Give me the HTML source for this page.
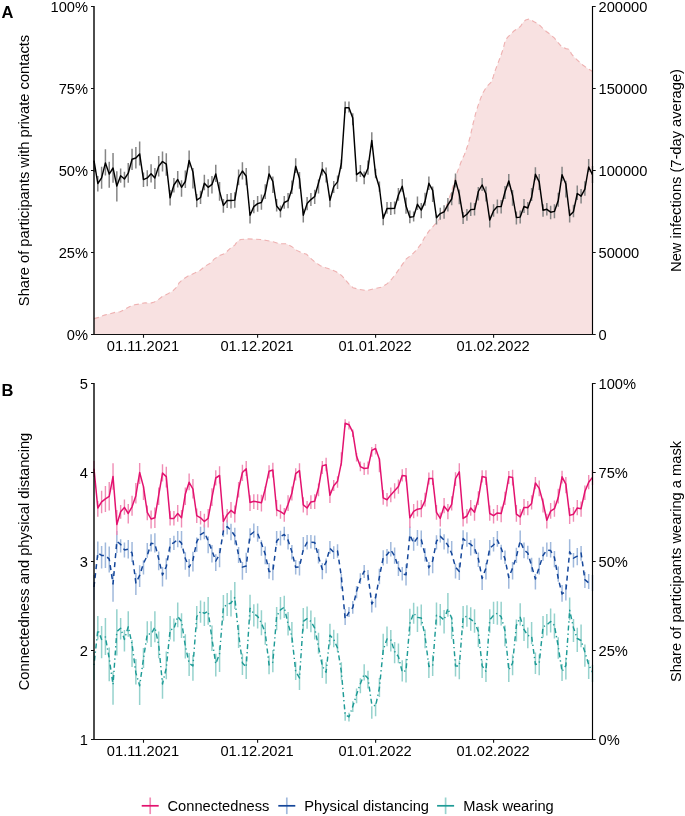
<!DOCTYPE html>
<html><head><meta charset="utf-8"><style>
html,body{margin:0;padding:0;background:#fff;}
body{width:685px;height:816px;overflow:hidden;}
svg{display:block;will-change:transform;}
text{font-family:"Liberation Sans",sans-serif;}
</style></head><body>
<svg width="685" height="816" viewBox="0 0 685 816" font-family="Liberation Sans, sans-serif" font-size="14.67">
<rect width="685" height="816" fill="#fff"/>
<polygon points="94.0,334.5 94.0,318.6 99.2,317.3 104.5,315.1 109.7,313.8 115.0,312.4 120.2,311.8 124.8,309.4 129.4,306.8 134.7,304.8 139.9,303.9 145.2,302.8 150.4,303.2 154.4,301.9 158.3,299.6 162.9,296.0 167.5,293.9 172.8,291.0 176.7,287.1 178.9,283.2 182.9,279.3 188.1,276.0 194.7,273.1 200.0,270.5 205.2,266.1 209.8,263.5 214.4,258.9 219.7,255.6 224.9,253.4 230.2,248.4 234.8,245.1 237.4,241.2 240.7,239.5 247.3,238.9 253.8,239.2 260.4,239.5 266.6,240.5 273.1,241.8 279.7,243.8 286.3,243.8 291.5,246.4 296.8,250.4 302.0,253.0 306.6,254.3 309.9,257.6 315.2,262.2 320.4,265.7 325.7,267.8 331.0,269.4 336.2,271.8 341.5,275.3 345.0,279.2 348.6,283.6 353.0,287.7 359.6,289.5 366.9,290.6 374.2,288.7 381.5,287.3 387.3,283.6 391.7,279.2 396.1,273.4 401.2,266.1 406.3,258.8 412.2,254.4 416.5,250.0 420.9,244.2 424.6,237.6 428.9,231.1 433.4,226.1 438.6,220.1 442.9,211.5 447.2,203.8 450.6,194.3 453.2,185.8 455.8,176.3 459.2,166.9 461.8,160.0 464.3,155.0 467.7,145.5 470.3,136.1 473.0,124.0 475.7,113.2 479.1,102.4 482.5,93.6 486.5,86.9 491.3,82.1 493.3,76.7 494.5,72.3 497.6,64.2 500.7,56.0 503.2,48.8 504.7,42.7 507.3,37.6 509.9,35.0 513.9,31.0 517.5,28.4 520.6,26.4 523.1,22.3 525.7,20.0 528.8,19.2 532.3,20.7 534.1,21.8 538.7,24.3 542.3,27.9 546.3,31.5 550.4,34.5 554.5,38.1 558.1,42.7 561.7,46.8 565.8,48.6 569.3,49.3 571.4,53.9 575.0,58.0 579.0,61.6 583.1,65.2 587.2,68.2 592.5,71.5 592.5,334.5" fill="#f8e1e1"/>
<polyline points="94.0,318.6 99.2,317.3 104.5,315.1 109.7,313.8 115.0,312.4 120.2,311.8 124.8,309.4 129.4,306.8 134.7,304.8 139.9,303.9 145.2,302.8 150.4,303.2 154.4,301.9 158.3,299.6 162.9,296.0 167.5,293.9 172.8,291.0 176.7,287.1 178.9,283.2 182.9,279.3 188.1,276.0 194.7,273.1 200.0,270.5 205.2,266.1 209.8,263.5 214.4,258.9 219.7,255.6 224.9,253.4 230.2,248.4 234.8,245.1 237.4,241.2 240.7,239.5 247.3,238.9 253.8,239.2 260.4,239.5 266.6,240.5 273.1,241.8 279.7,243.8 286.3,243.8 291.5,246.4 296.8,250.4 302.0,253.0 306.6,254.3 309.9,257.6 315.2,262.2 320.4,265.7 325.7,267.8 331.0,269.4 336.2,271.8 341.5,275.3 345.0,279.2 348.6,283.6 353.0,287.7 359.6,289.5 366.9,290.6 374.2,288.7 381.5,287.3 387.3,283.6 391.7,279.2 396.1,273.4 401.2,266.1 406.3,258.8 412.2,254.4 416.5,250.0 420.9,244.2 424.6,237.6 428.9,231.1 433.4,226.1 438.6,220.1 442.9,211.5 447.2,203.8 450.6,194.3 453.2,185.8 455.8,176.3 459.2,166.9 461.8,160.0 464.3,155.0 467.7,145.5 470.3,136.1 473.0,124.0 475.7,113.2 479.1,102.4 482.5,93.6 486.5,86.9 491.3,82.1 493.3,76.7 494.5,72.3 497.6,64.2 500.7,56.0 503.2,48.8 504.7,42.7 507.3,37.6 509.9,35.0 513.9,31.0 517.5,28.4 520.6,26.4 523.1,22.3 525.7,20.0 528.8,19.2 532.3,20.7 534.1,21.8 538.7,24.3 542.3,27.9 546.3,31.5 550.4,34.5 554.5,38.1 558.1,42.7 561.7,46.8 565.8,48.6 569.3,49.3 571.4,53.9 575.0,58.0 579.0,61.6 583.1,65.2 587.2,68.2 592.5,71.5" fill="none" stroke="#eeb1b1" stroke-width="1.1" stroke-dasharray="5 3.5"/>
<path d="M94.00 150.0V172.0M97.81 175.9V191.5M101.61 166.7V188.8M105.42 149.2V175.4M109.22 161.7V187.8M113.03 152.9V182.8M116.83 171.3V201.6M120.64 168.5V182.8M124.44 171.8V187.4M128.25 163.0V182.8M132.05 148.8V169.9M135.86 147.0V168.5M139.66 141.5V165.4M143.47 172.5V186.9M147.27 170.3V186.3M151.08 164.2V182.5M154.88 168.1V189.1M158.69 156.0V176.4M162.50 151.6V171.4M166.30 153.2V175.8M170.11 190.0V205.6M173.91 178.0V192.4M177.72 170.9V187.4M181.52 180.3V196.8M185.33 170.4V188.0M189.13 150.5V167.6M192.94 168.1V188.6M196.74 194.1V207.3M200.55 190.8V204.0M204.35 174.8V190.2M208.16 179.2V196.8M211.96 175.9V193.5M215.77 164.8V181.9M219.57 181.9V200.7M223.38 199.0V212.8M227.19 194.1V207.9M230.99 193.0V208.6M234.80 192.2V207.8M238.60 169.6V185.3M242.41 162.3V179.4M246.21 168.1V185.3M250.02 212.7V223.5M253.82 200.0V213.2M257.63 196.1V211.8M261.43 194.6V209.8M265.24 184.3V199.0M269.04 165.7V179.4M272.85 176.5V193.1M276.65 199.0V211.5M280.46 205.4V217.6M284.26 196.1V208.8M288.07 193.1V208.3M291.88 180.4V194.1M295.68 158.3V173.0M299.49 172.1V188.7M303.29 208.8V222.5M307.10 197.1V210.3M310.90 193.1V205.9M314.71 189.7V203.9M318.51 179.4V193.6M322.32 162.1V175.5M326.12 167.5V182.6M329.93 196.9V207.3M333.73 181.0V192.9M337.54 175.4V189.0M341.34 159.5V169.0M345.15 101.4V113.3M348.96 101.4V112.5M352.76 113.3V125.3M356.57 173.0V181.8M360.37 165.1V177.0M364.18 171.4V184.2M367.98 160.6V174.8M371.79 132.2V146.5M375.59 168.7V178.3M379.40 181.6V191.8M383.20 213.7V225.3M387.01 202.1V213.7M390.81 202.1V215.0M394.62 201.5V214.3M398.42 188.0V200.8M402.23 179.0V191.8M406.03 197.6V213.7M409.84 210.5V223.3M413.65 211.5V221.6M417.45 196.4V210.0M421.26 203.1V218.2M425.06 192.7V205.7M428.87 176.6V190.1M432.67 186.5V202.1M436.48 214.6V224.5M440.28 207.8V219.8M444.09 205.2V218.8M447.89 197.9V211.5M451.70 192.2V205.2M455.50 173.4V187.5M459.31 189.6V204.2M463.11 212.0V224.0M466.92 208.9V220.8M470.72 202.6V216.1M474.53 203.1V215.6M478.34 187.0V200.5M482.14 178.1V191.1M485.95 186.5V201.6M489.75 215.6V227.6M493.56 204.2V216.7M497.36 199.5V213.5M501.17 200.0V213.5M504.97 185.9V199.0M508.78 174.0V186.5M512.58 190.1V205.7M516.39 211.5V224.5M520.19 210.4V223.4M524.00 199.0V213.0M527.80 202.1V215.1M531.61 188.0V201.0M535.41 167.2V180.2M539.22 174.0V190.1M543.03 204.2V216.7M546.83 203.1V215.6M550.64 205.7V219.3M554.44 204.2V218.2M558.25 192.7V206.8M562.05 166.7V181.3M565.86 180.7V197.4M569.66 209.4V222.4M573.47 204.7V217.2M577.27 185.4V200.0M581.08 189.1V203.6M584.88 181.3V195.8M588.69 158.9V171.9M592.49 166.0V183.0" stroke="#858585" stroke-width="1.5" fill="none"/>
<polyline points="94.00,160.6 97.81,183.5 101.61,177.9 105.42,162.9 109.22,174.1 113.03,168.0 116.83,186.1 120.64,175.8 124.44,179.0 128.25,173.2 132.05,159.2 135.86,158.0 139.66,153.9 143.47,179.6 147.27,177.9 151.08,173.8 154.88,177.9 158.69,166.2 162.50,161.5 166.30,164.2 170.11,197.8 173.91,185.0 177.72,179.5 181.52,187.3 185.33,181.5 189.13,160.4 192.94,172.1 196.74,200.1 200.55,197.5 204.35,183.2 208.16,187.3 211.96,184.4 215.77,173.9 219.57,191.4 223.38,205.4 227.19,200.5 230.99,200.5 234.80,200.1 238.60,177.4 242.41,171.0 246.21,176.2 250.02,215.3 253.82,206.6 257.63,203.6 261.43,202.5 265.24,193.1 269.04,173.9 272.85,181.5 276.65,206.0 280.46,210.7 284.26,202.5 288.07,200.7 291.88,189.0 295.68,166.3 299.49,178.5 303.29,215.3 307.10,203.6 310.90,199.6 314.71,196.5 318.51,183.0 322.32,169.1 326.12,174.7 329.93,200.2 333.73,186.6 337.54,181.9 341.34,163.5 345.15,107.7 348.96,107.7 352.76,118.1 356.57,174.7 360.37,171.8 364.18,177.1 367.98,168.3 371.79,140.4 375.59,174.7 379.40,187.5 383.20,218.5 387.01,208.5 390.81,208.5 394.62,208.3 398.42,195.0 402.23,186.2 406.03,206.1 409.84,217.2 413.65,216.6 417.45,204.3 421.26,210.1 425.06,201.4 428.87,183.3 432.67,190.3 436.48,217.7 440.28,213.6 444.09,211.9 447.89,204.9 451.70,199.0 455.50,180.4 459.31,194.4 463.11,217.2 466.92,214.2 470.72,209.6 474.53,209.3 478.34,191.5 482.14,185.0 485.95,193.8 489.75,220.1 493.56,210.7 497.36,206.6 501.17,206.6 504.97,192.0 508.78,180.9 512.58,195.5 516.39,217.5 520.19,217.1 524.00,206.5 527.80,208.0 531.61,197.3 535.41,174.3 539.22,181.8 543.03,210.2 546.83,209.3 550.64,212.2 554.44,211.4 558.25,200.6 562.05,174.7 565.86,184.1 569.66,215.5 573.47,211.7 577.27,193.5 581.08,196.2 584.88,189.1 588.69,167.0 592.49,174.7" fill="none" stroke="#000" stroke-width="1.45" stroke-linejoin="round"/>
<path d="M94.0 6.0V334.6" stroke="#000" stroke-width="1.4"/>
<path d="M592.5 6.0V334.6" stroke="#000" stroke-width="1.15"/>
<path d="M93.4 334.5H593.1" stroke="#111" stroke-width="1.1"/>
<path d="M91.0 334.5H94.0M592.5 334.5H595.7M91.0 252.5H94.0M592.5 252.5H595.7M91.0 170.5H94.0M592.5 170.5H595.7M91.0 88.5H94.0M592.5 88.5H595.7M91.0 6.5H94.0M592.5 6.5H595.7M143.5 334.5V337.8M257.6 334.5V337.8M375.6 334.5V337.8M493.6 334.5V337.8" stroke="#111" stroke-width="1.1"/>
<text x="88.0" y="339.7" text-anchor="end" fill="#000">0%</text>
<text x="88.0" y="257.7" text-anchor="end" fill="#000">25%</text>
<text x="88.0" y="175.7" text-anchor="end" fill="#000">50%</text>
<text x="88.0" y="93.7" text-anchor="end" fill="#000">75%</text>
<text x="88.0" y="11.7" text-anchor="end" fill="#000">100%</text>
<text x="598.5" y="339.7" fill="#000">0</text>
<text x="598.5" y="257.7" fill="#000">50000</text>
<text x="598.5" y="175.7" fill="#000">100000</text>
<text x="598.5" y="93.7" fill="#000">150000</text>
<text x="598.5" y="11.7" fill="#000">200000</text>
<text x="143.0" y="351.2" text-anchor="middle" fill="#000">01.11.2021</text>
<text x="257.1" y="351.2" text-anchor="middle" fill="#000">01.12.2021</text>
<text x="375.1" y="351.2" text-anchor="middle" fill="#000">01.01.2022</text>
<text x="493.1" y="351.2" text-anchor="middle" fill="#000">01.02.2022</text>
<text transform="translate(28.6 170.5) rotate(-90)" text-anchor="middle" fill="#000">Share of participants with private contacts</text>
<text transform="translate(681.2 170.5) rotate(-90)" text-anchor="middle" fill="#000">New infections (7-day average)</text>
<text x="1.5" y="18" font-weight="bold" font-size="16.5" fill="#000">A</text>
<path d="M94.00 652.0V680.0M97.81 615.9V639.5M101.61 626.0V658.3M105.42 617.9V655.0M109.22 647.6V681.3M113.03 671.8V704.8M116.83 609.2V655.6M120.64 617.9V639.5M124.44 630.0V651.6M128.25 611.2V636.8M132.05 640.1V667.1M135.86 659.0V684.6M139.66 681.0V705.0M143.47 648.0V668.0M147.27 621.3V642.8M151.08 621.3V646.9M154.88 611.2V642.2M158.69 631.4V658.3M162.50 678.6V698.8M166.30 651.6V679.2M170.11 615.9V639.5M173.91 618.6V641.5M177.72 602.4V627.3M181.52 613.2V638.1M185.33 634.2V658.4M189.13 653.1V676.0M192.94 655.1V680.7M196.74 605.9V628.8M200.55 600.5V622.7M204.35 601.8V626.1M208.16 597.1V624.8M211.96 625.4V651.0M215.77 653.7V676.6M219.57 646.3V671.9M223.38 595.1V620.7M227.19 593.1V616.0M230.99 590.3V616.5M234.80 582.0V609.0M238.60 624.5V648.1M242.41 653.5V675.0M246.21 656.8V679.1M250.02 594.8V620.4M253.82 604.3V626.5M257.63 603.6V628.5M261.43 610.3V635.3M265.24 622.5V644.7M269.04 655.5V674.3M272.85 650.1V672.3M276.65 607.1V630.3M280.46 597.1V619.4M284.26 595.8V618.0M288.07 612.0V635.5M291.88 622.1V643.0M295.68 661.8V680.0M299.49 671.3V690.1M303.29 607.9V631.5M307.10 606.6V628.8M310.90 610.6V632.2M314.71 617.3V639.6M318.51 632.8V653.7M322.32 659.2V678.1M326.12 662.2V683.7M329.93 623.8V645.3M333.73 629.8V647.3M337.54 633.2V652.1M341.34 662.2V679.7M345.15 712.0V720.8M348.96 712.7V721.5M352.76 701.3V712.0M356.57 688.5V703.3M360.37 678.3V693.2M364.18 664.2V680.4M367.98 670.8V688.4M371.79 706.2V718.8M375.59 702.9V716.2M379.40 677.9V697.0M383.20 633.8V655.1M387.01 626.5V646.3M390.81 630.1V651.5M394.62 641.9V663.2M398.42 643.4V663.2M402.23 660.3V681.6M406.03 658.8V682.4M409.84 608.8V635.3M413.65 602.7V623.8M417.45 606.6V632.0M421.26 604.5V625.4M425.06 629.5V648.3M428.87 661.1V678.0M432.67 655.1V676.0M436.48 602.5V625.4M440.28 603.9V625.4M444.09 609.9V633.5M447.89 593.1V616.7M451.70 616.7V638.9M455.50 659.1V676.6M459.31 660.5V679.3M463.11 605.9V628.8M466.92 605.2V626.8M470.72 607.2V630.8M474.53 609.3V632.8M478.34 626.8V647.0M482.14 660.5V678.0M485.95 662.5V682.0M489.75 609.3V632.8M493.56 601.8V624.1M497.36 601.2V624.8M501.17 601.8V625.4M504.97 625.4V646.3M508.78 663.2V682.0M512.58 654.4V675.3M516.39 619.4V641.6M520.19 603.2V625.4M524.00 617.3V640.9M527.80 627.5V648.3M531.61 622.1V644.3M535.41 652.4V673.9M539.22 654.4V675.3M543.03 616.0V637.6M546.83 614.0V635.5M550.64 608.4V632.6M554.44 613.4V638.4M558.25 637.2V658.7M562.05 664.1V681.0M565.86 657.4V679.6M569.66 597.4V620.3M573.47 619.0V641.9M577.27 627.7V652.0M581.08 624.4V647.3M584.88 644.6V666.8M588.69 660.1V678.9M592.49 665.0V682.0" stroke="#96d2cd" stroke-width="1.5" fill="none"/>
<path d="M94.00 575.0V600.0M97.81 541.5V558.1M101.61 545.9V568.6M105.42 542.6V568.0M109.22 546.5V572.4M113.03 573.0V601.7M116.83 531.0V553.1M120.64 539.3V552.6M124.44 542.6V557.5M128.25 539.9V558.6M132.05 542.1V561.9M135.86 573.0V595.0M139.66 565.2V586.9M143.47 560.3V574.4M147.27 543.1V557.7M151.08 534.3V551.5M154.88 533.2V552.5M158.69 551.5V570.2M162.50 567.1V586.4M166.30 558.2V579.6M170.11 537.9V552.5M173.91 535.8V549.9M177.72 531.1V547.3M181.52 531.1V548.3M185.33 552.3V569.8M189.13 559.0V576.7M192.94 551.7V571.5M196.74 537.6V551.7M200.55 526.7V540.2M204.35 524.6V539.2M208.16 536.6V553.2M211.96 544.9V562.6M215.77 554.3V570.9M219.57 548.0V567.3M223.38 523.5V537.1M227.19 519.9V534.5M230.99 523.8V540.2M234.80 527.7V544.4M238.60 547.0V563.1M242.41 562.1V579.8M246.21 552.7V573.0M250.02 528.2V541.3M253.82 523.5V537.6M257.63 526.1V541.8M261.43 540.2V555.8M265.24 546.5V564.2M269.04 563.1V578.8M272.85 564.2V580.3M276.65 531.0V545.4M280.46 530.8V545.4M284.26 526.7V540.2M288.07 534.0V549.6M291.88 544.9V559.5M295.68 560.0V574.6M299.49 561.0V575.6M303.29 537.1V551.7M307.10 535.0V549.6M310.90 535.0V548.5M314.71 535.5V549.6M318.51 549.1V563.6M322.32 563.0V579.3M326.12 558.4V573.2M329.93 540.9V553.7M333.73 546.3V559.1M337.54 544.3V557.7M341.34 573.9V588.7M345.15 609.0V625.1M348.96 606.9V617.0M352.76 600.9V613.7M356.57 586.0V598.2M360.37 573.2V584.0M364.18 565.1V578.0M367.98 570.0V581.0M371.79 599.6V612.5M375.59 593.9V607.4M379.40 568.8V584.3M383.20 550.2V565.6M387.01 548.9V563.7M390.81 541.9V556.6M394.62 547.6V563.7M398.42 561.1V575.9M402.23 566.9V580.4M406.03 564.3V585.6M409.84 526.4V541.2M413.65 537.4V550.8M417.45 530.1V545.7M421.26 530.6V547.3M425.06 548.3V561.4M428.87 561.9V575.4M432.67 556.1V573.3M436.48 535.3V549.4M440.28 528.5V542.6M444.09 534.3V549.4M447.89 538.4V553.5M451.70 541.0V555.6M455.50 564.0V578.5M459.31 562.9V580.1M463.11 530.3V545.2M466.92 532.2V546.8M470.72 540.0V555.6M474.53 538.4V553.5M478.34 552.5V567.1M482.14 575.4V590.0M485.95 562.9V579.6M489.75 540.0V555.6M493.56 536.9V551.5M497.36 531.1V546.8M501.17 544.7V559.8M504.97 550.4V564.0M508.78 574.6V588.7M512.58 561.9V579.6M516.39 547.8V562.9M520.19 530.6V544.2M524.00 542.6V558.2M527.80 545.7V559.3M531.61 557.7V571.8M535.41 573.9V589.5M539.22 557.7V574.4M543.03 546.8V560.8M546.83 542.6V556.7M550.64 542.0V557.6M554.44 550.9V567.3M558.25 566.4V581.8M562.05 585.1V601.7M565.86 584.0V600.6M569.66 539.3V555.3M573.47 553.1V567.5M577.27 548.1V565.3M581.08 545.9V560.8M584.88 571.9V587.9M588.69 574.1V589.0M592.49 575.0V591.0" stroke="#a0b9dc" stroke-width="1.5" fill="none"/>
<path d="M94.00 461.0V477.0M97.81 501.1V516.8M101.61 490.8V513.3M105.42 485.9V511.9M109.22 482.0V510.4M113.03 463.3V489.8M116.83 510.0V535.0M120.64 505.0V518.7M124.44 499.6V514.8M128.25 504.0V523.6M132.05 495.7V515.8M135.86 482.9V503.5M139.66 463.0V484.0M143.47 486.4V500.1M147.27 505.5V520.2M151.08 510.4V528.5M154.88 507.5V528.0M158.69 487.4V505.0M162.50 464.3V481.5M166.30 466.8V487.4M170.11 510.9V525.6M173.91 510.9V525.6M177.72 505.0V521.7M181.52 509.9V527.5M185.33 487.4V505.0M189.13 473.6V490.3M192.94 479.0V498.6M196.74 508.4V523.1M200.55 510.9V524.6M204.35 513.8V527.5M208.16 508.9V527.5M211.96 488.3V506.0M215.77 470.2V485.4M219.57 466.3V483.4M223.38 515.0V532.0M227.19 508.9V522.6M230.99 502.1V517.7M234.80 505.5V522.6M238.60 482.0V497.6M242.41 464.8V481.0M246.21 460.9V476.1M250.02 495.2V510.9M253.82 494.2V508.9M257.63 494.2V509.9M261.43 494.7V511.4M265.24 486.4V500.6M269.04 465.3V478.5M272.85 462.8V477.5M276.65 500.0V516.3M280.46 504.5V518.7M284.26 507.9V521.7M288.07 495.2V510.9M291.88 486.4V500.6M295.68 468.2V480.5M299.49 463.3V477.5M303.29 497.2V512.4M307.10 501.1V515.3M310.90 495.2V508.9M314.71 494.2V508.9M318.51 483.4V496.2M322.32 461.0V474.0M326.12 457.8V471.3M329.93 489.7V503.1M333.73 479.9V490.9M337.54 476.2V487.8M341.34 452.3V465.8M345.15 419.2V427.2M348.96 421.6V429.6M352.76 429.6V437.0M356.57 452.9V461.5M360.37 461.5V471.3M364.18 462.7V475.0M367.98 461.6V474.5M371.79 447.0V456.8M375.59 444.1V454.5M379.40 458.2V472.3M383.20 490.0V504.8M387.01 493.1V506.6M390.81 487.6V502.3M394.62 483.3V498.6M398.42 479.6V493.7M402.23 469.2V481.5M406.03 468.0V481.5M409.84 514.6V528.0M413.65 504.1V518.2M417.45 500.5V516.5M421.26 500.1V517.3M425.06 492.7V506.5M428.87 472.6V484.4M432.67 470.2V484.9M436.48 505.0V519.7M440.28 512.4V526.6M444.09 498.1V513.3M447.89 504.0V519.2M451.70 496.2V510.4M455.50 472.2V485.9M459.31 463.3V478.5M463.11 512.8V526.6M466.92 508.9V523.6M470.72 500.1V515.8M474.53 505.0V520.7M478.34 491.3V505.0M482.14 470.2V482.5M485.95 470.2V484.9M489.75 505.5V520.7M493.56 508.9V523.6M497.36 505.0V520.7M501.17 506.5V522.2M504.97 491.8V505.0M508.78 471.0V484.0M512.58 469.7V485.4M516.39 505.0V521.7M520.19 508.9V525.1M524.00 499.1V515.3M527.80 501.1V515.3M531.61 495.2V509.4M535.41 477.1V489.3M539.22 480.5V496.2M543.03 498.6V512.4M546.83 513.8V528.5M550.64 503.0V518.7M554.44 500.6V516.8M558.25 488.8V503.5M562.05 470.7V483.4M565.86 477.1V493.2M569.66 507.9V524.1M573.47 507.0V521.7M577.27 500.1V515.3M581.08 501.6V516.8M584.88 485.4V500.1M588.69 475.1V489.3M592.49 470.0V485.0" stroke="#f08db5" stroke-width="1.4" fill="none"/>
<polyline points="94.00,665.0 97.81,629.9 101.61,639.4 105.42,637.0 109.22,658.6 113.03,684.5 116.83,631.5 120.64,628.3 124.44,639.4 128.25,626.7 132.05,644.2 135.86,672.9 139.66,685.7 143.47,658.6 147.27,634.0 151.08,634.0 154.88,627.3 158.69,644.9 162.50,684.0 166.30,667.8 170.11,630.0 173.91,628.7 177.72,616.6 181.52,621.3 185.33,646.0 189.13,663.2 192.94,665.9 196.74,616.7 200.55,611.3 204.35,613.3 208.16,611.3 211.96,638.9 215.77,663.8 219.57,653.7 223.38,607.2 227.19,604.5 230.99,603.0 234.80,597.5 238.60,634.0 242.41,662.9 246.21,666.9 250.02,608.3 253.82,613.7 257.63,616.4 261.43,623.1 265.24,632.6 269.04,664.9 272.85,662.2 276.65,616.2 280.46,609.9 284.26,607.2 288.07,624.1 291.88,636.2 295.68,671.3 299.49,678.0 303.29,621.4 307.10,618.7 310.90,621.4 314.71,628.1 318.51,647.0 322.32,665.9 326.12,672.3 329.93,635.2 333.73,639.3 337.54,648.0 341.34,671.6 345.15,714.7 348.96,716.8 352.76,706.6 356.57,694.5 360.37,683.7 364.18,674.3 367.98,678.3 371.79,704.5 375.59,706.0 379.40,688.0 383.20,650.0 387.01,639.0 390.81,639.7 394.62,651.5 398.42,656.6 402.23,672.0 406.03,670.6 409.84,623.5 413.65,613.2 417.45,617.4 421.26,618.0 425.06,636.2 428.87,666.5 432.67,665.9 436.48,615.3 440.28,616.7 444.09,620.0 447.89,608.6 451.70,618.3 455.50,665.9 459.31,665.9 463.11,617.3 466.92,616.3 470.72,619.4 474.53,622.1 478.34,631.5 482.14,665.9 485.95,671.3 489.75,620.0 493.56,615.3 497.36,613.3 501.17,616.7 504.97,630.8 508.78,670.0 512.58,663.2 516.39,625.4 520.19,617.3 524.00,629.5 527.80,635.5 531.61,636.2 535.41,664.5 539.22,663.2 543.03,626.8 546.83,624.8 550.64,621.5 554.44,625.5 558.25,646.6 562.05,671.5 565.86,665.5 569.66,610.2 573.47,627.7 577.27,638.5 581.08,640.5 584.88,652.0 588.69,664.8 592.49,672.2" fill="none" stroke="#1e9b96" stroke-width="1.45" stroke-linejoin="round" stroke-dasharray="1.3 3 5 3"/>
<polyline points="94.00,587.0 97.81,553.0 101.61,555.4 105.42,555.4 109.22,559.1 113.03,584.0 116.83,541.3 120.64,544.4 124.44,549.9 128.25,549.3 132.05,553.0 135.86,583.0 139.66,575.4 143.47,563.4 147.27,555.6 151.08,543.3 154.88,543.8 158.69,558.8 162.50,575.0 166.30,566.5 170.11,545.0 173.91,542.6 177.72,539.5 181.52,543.1 185.33,558.5 189.13,567.3 192.94,560.0 196.74,541.8 200.55,534.6 204.35,532.2 208.16,541.0 211.96,550.5 215.77,561.0 219.57,554.2 223.38,531.0 227.19,526.6 230.99,530.3 234.80,535.8 238.60,555.4 242.41,567.1 246.21,566.0 250.02,535.0 253.82,532.0 257.63,533.5 261.43,543.2 265.24,554.2 269.04,571.5 272.85,571.4 276.65,541.3 280.46,536.6 284.26,534.5 288.07,540.2 291.88,551.7 295.68,567.3 299.49,566.8 303.29,549.6 307.10,542.3 310.90,542.3 314.71,542.5 318.51,556.9 322.32,569.4 326.12,562.1 329.93,548.3 333.73,552.3 337.54,551.0 341.34,576.6 345.15,619.0 348.96,612.3 352.76,607.6 356.57,591.4 360.37,579.3 364.18,571.2 367.98,575.3 371.79,604.0 375.59,597.5 379.40,577.0 383.20,557.6 387.01,554.7 390.81,549.8 394.62,556.0 398.42,567.6 402.23,574.0 406.03,574.8 409.84,534.6 413.65,543.2 417.45,537.7 421.26,539.5 425.06,554.6 428.87,567.7 432.67,560.8 436.48,541.3 440.28,536.4 444.09,540.0 447.89,545.2 451.70,553.5 455.50,567.1 459.31,571.4 463.11,538.6 466.92,542.1 470.72,544.4 474.53,548.1 478.34,558.8 482.14,578.5 485.95,568.1 489.75,548.3 493.56,545.0 497.36,540.0 501.17,548.3 504.97,558.8 508.78,577.5 512.58,568.1 516.39,556.7 520.19,541.0 524.00,549.9 527.80,553.0 531.61,566.0 535.41,579.0 539.22,567.1 543.03,555.5 546.83,549.9 550.64,550.6 554.44,557.5 558.25,578.5 562.05,594.0 565.86,591.0 569.66,551.8 573.47,558.1 577.27,556.1 581.08,553.0 584.88,579.6 588.69,582.9 592.49,583.5" fill="none" stroke="#14469a" stroke-width="1.5" stroke-linejoin="round" stroke-dasharray="5 4"/>
<polyline points="94.00,468.8 97.81,508.0 101.61,501.9 105.42,498.8 109.22,496.4 113.03,476.5 116.83,524.5 120.64,511.7 124.44,507.4 128.25,513.5 132.05,506.8 135.86,495.7 139.66,472.5 143.47,486.6 147.27,512.3 151.08,519.0 154.88,517.8 158.69,495.1 162.50,473.1 166.30,476.6 170.11,518.4 173.91,518.4 177.72,513.5 181.52,517.8 185.33,493.9 189.13,482.3 192.94,489.0 196.74,515.7 200.55,517.8 204.35,521.5 208.16,518.4 211.96,497.6 215.77,478.0 219.57,475.5 223.38,521.5 227.19,514.7 230.99,510.4 234.80,513.5 238.60,489.0 242.41,472.5 246.21,468.8 250.02,502.5 253.82,501.3 257.63,501.9 261.43,502.7 265.24,489.0 269.04,471.2 272.85,470.0 276.65,509.8 280.46,511.7 284.26,514.1 288.07,504.3 291.88,493.3 295.68,473.7 299.49,470.6 303.29,504.9 307.10,508.0 310.90,501.9 314.71,501.2 318.51,488.0 322.32,465.9 326.12,464.7 329.93,495.3 333.73,485.7 337.54,481.3 341.34,462.9 345.15,423.2 348.96,424.7 352.76,432.1 356.57,456.3 360.37,466.6 364.18,468.5 367.98,468.1 371.79,450.4 375.59,448.5 379.40,459.3 383.20,497.9 387.01,499.7 390.81,494.9 394.62,490.7 398.42,486.6 402.23,475.5 406.03,476.1 409.84,517.8 413.65,511.3 417.45,509.2 421.26,508.6 425.06,500.6 428.87,478.6 432.67,478.6 436.48,512.3 440.28,518.4 444.09,506.2 447.89,511.1 451.70,504.3 455.50,478.5 459.31,471.9 463.11,518.4 466.92,516.0 470.72,508.0 474.53,512.3 478.34,498.8 482.14,476.5 485.95,477.4 489.75,513.5 493.56,515.7 497.36,512.9 501.17,513.5 504.97,498.8 508.78,476.8 512.58,477.4 516.39,514.1 520.19,516.9 524.00,507.4 527.80,507.4 531.61,503.4 535.41,483.0 539.22,488.4 543.03,502.5 546.83,520.3 550.64,511.1 554.44,508.7 558.25,497.6 562.05,476.8 565.86,484.1 569.66,515.4 573.47,514.2 577.27,508.0 581.08,508.7 584.88,491.5 588.69,482.3 592.49,477.4" fill="none" stroke="#e3126f" stroke-width="1.5" stroke-linejoin="round"/>
<path d="M94.0 383.0V739.6" stroke="#000" stroke-width="1.4"/>
<path d="M592.5 383.0V739.6" stroke="#000" stroke-width="1.15"/>
<path d="M93.4 739.5H593.1" stroke="#111" stroke-width="1.1"/>
<path d="M91.0 739.5H94.0M592.5 739.5H595.7M91.0 650.5H94.0M592.5 650.5H595.7M91.0 561.5H94.0M592.5 561.5H595.7M91.0 472.5H94.0M592.5 472.5H595.7M91.0 383.5H94.0M592.5 383.5H595.7M143.5 739.5V742.8M257.6 739.5V742.8M375.6 739.5V742.8M493.6 739.5V742.8" stroke="#111" stroke-width="1.1"/>
<text x="88.0" y="744.7" text-anchor="end" fill="#000">1</text>
<text x="88.0" y="655.7" text-anchor="end" fill="#000">2</text>
<text x="88.0" y="566.7" text-anchor="end" fill="#000">3</text>
<text x="88.0" y="477.7" text-anchor="end" fill="#000">4</text>
<text x="88.0" y="388.7" text-anchor="end" fill="#000">5</text>
<text x="598.5" y="744.7" fill="#000">0%</text>
<text x="598.5" y="655.7" fill="#000">25%</text>
<text x="598.5" y="566.7" fill="#000">50%</text>
<text x="598.5" y="477.7" fill="#000">75%</text>
<text x="598.5" y="388.7" fill="#000">100%</text>
<text x="143.0" y="755.7" text-anchor="middle" fill="#000">01.11.2021</text>
<text x="257.1" y="755.7" text-anchor="middle" fill="#000">01.12.2021</text>
<text x="375.1" y="755.7" text-anchor="middle" fill="#000">01.01.2022</text>
<text x="493.1" y="755.7" text-anchor="middle" fill="#000">01.02.2022</text>
<text transform="translate(28.6 561.5) rotate(-90)" text-anchor="middle" fill="#000">Connectedness and physical distancing</text>
<text transform="translate(681.2 561.5) rotate(-90)" text-anchor="middle" fill="#000">Share of participants wearing a mask</text>
<text x="1.5" y="395.5" font-weight="bold" font-size="16.5" fill="#000">B</text>
<path d="M150.2 797.5V814.1" stroke="#f08db5" stroke-width="1.7"/><path d="M141.7 805.8H158.7" stroke="#e3126f" stroke-width="1.7"/>
<path d="M286.8 797.5V814.1" stroke="#a0b9dc" stroke-width="1.7"/><path d="M278.3 805.8H295.3" stroke="#14469a" stroke-width="1.7"/>
<path d="M445.6 797.5V814.1" stroke="#96d2cd" stroke-width="1.7"/><path d="M437.1 805.8H454.1" stroke="#1e9b96" stroke-width="1.7"/>
<text x="167.5" y="811.3" fill="#000">Connectedness</text>
<text x="304.3" y="811.3" fill="#000">Physical distancing</text>
<text x="463.3" y="811.3" fill="#000">Mask wearing</text>
</svg>
</body></html>
